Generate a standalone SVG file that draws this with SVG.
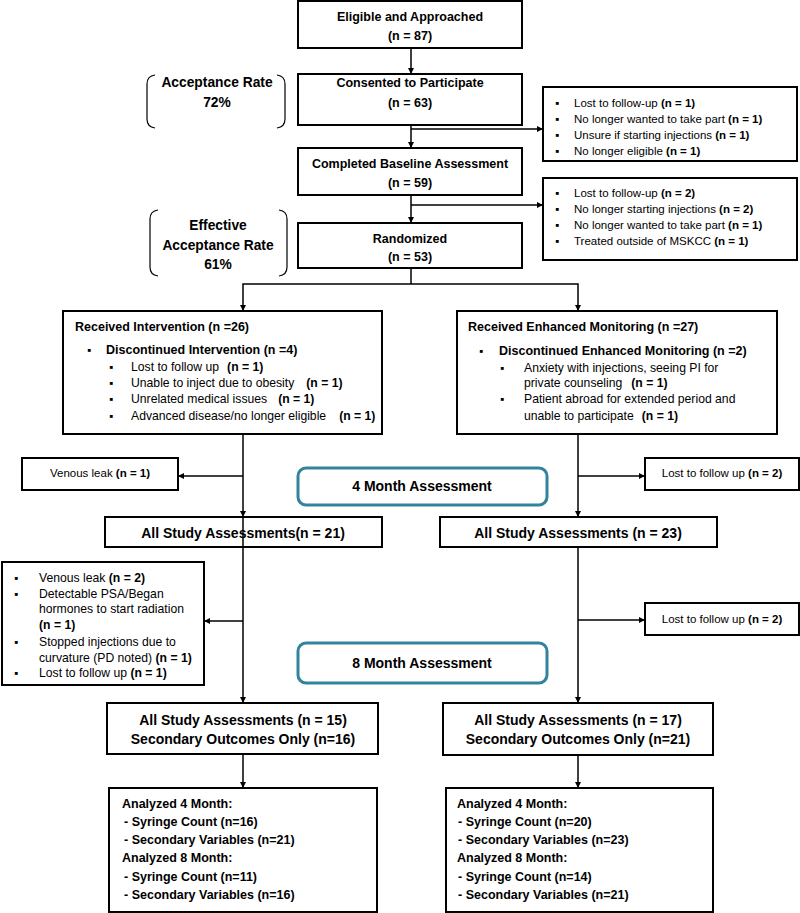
<svg xmlns="http://www.w3.org/2000/svg" width="800" height="913" viewBox="0 0 800 913">
<style>
text{font-family:"Liberation Sans",Arial,"DejaVu Sans",sans-serif;font-size:11.5px;fill:#000}
.c{text-anchor:middle}
.b{font-weight:bold}
.s{font-size:12.2px}
.h{font-size:12.5px;font-weight:bold}
.r{font-size:13.8px;font-weight:bold}
.big{font-size:14px;font-weight:bold}
.box{fill:#fff;stroke:#000;stroke-width:2}
.tbox{fill:#fff;stroke:#31849B;stroke-width:3}
.br{fill:none;stroke:#000;stroke-width:1.2}
.conn{fill:none;stroke:#000;stroke-width:1.5}
.arr{fill:none;stroke:#000;stroke-width:1.5;marker-end:url(#ah)}
</style>
<defs>
<marker id="ah" viewBox="0 0 10 10" refX="10" refY="5" markerWidth="6" markerHeight="6" markerUnits="userSpaceOnUse" orient="auto"><path d="M0,0 L10,5 L0,10 z" fill="#000"/></marker>
</defs>
<rect width="800" height="913" fill="#fff"/>

<g id="n-eligible"><rect class="box" x="298" y="1" width="224" height="47"/>
<text class="c h" x="410" y="21">Eligible and Approached</text><text class="c h" x="410" y="40">(n = 87)</text></g>

<g id="n-consented"><rect class="box" x="298" y="74" width="224" height="51"/>
<text class="c h" x="410" y="87">Consented to Participate</text><text class="c h" x="410" y="107">(n = 63)</text></g>

<g id="n-acceptance"><path class="br" d="M155,75 Q147,76 147,84 L147,119 Q147,127 155,128"/><path class="br" d="M277,75 Q285,76 285,84 L285,119 Q285,127 277,128"/>
<text class="c r" x="217" y="87">Acceptance Rate</text><text class="c r" x="217" y="107">72%</text></g>

<g id="n-excl1"><rect class="box" x="543" y="87" width="254" height="74"/>
<text x="555" y="107">▪</text><text x="574" y="107">Lost to follow-up <tspan class="b">(n = 1)</tspan></text>
<text x="555" y="123">▪</text><text x="574" y="123">No longer wanted to take part <tspan class="b">(n = 1)</tspan></text>
<text x="555" y="139">▪</text><text x="574" y="139">Unsure if starting injections <tspan class="b">(n = 1)</tspan></text>
<text x="555" y="155">▪</text><text x="574" y="155">No longer eligible <tspan class="b">(n = 1)</tspan></text></g>

<g id="n-baseline"><rect class="box" x="298" y="148" width="224" height="47"/>
<text class="c h" x="410" y="168">Completed Baseline Assessment</text><text class="c h" x="410" y="187">(n = 59)</text></g>

<g id="n-excl2"><rect class="box" x="543" y="178" width="254" height="82"/>
<text x="555" y="197">▪</text><text x="574" y="197">Lost to follow-up <tspan class="b">(n = 2)</tspan></text>
<text x="555" y="213">▪</text><text x="574" y="213">No longer starting injections <tspan class="b">(n = 2)</tspan></text>
<text x="555" y="229">▪</text><text x="574" y="229">No longer wanted to take part <tspan class="b">(n = 1)</tspan></text>
<text x="555" y="245">▪</text><text x="574" y="245">Treated outside of MSKCC <tspan class="b">(n = 1)</tspan></text></g>

<g id="n-effective"><path class="br" d="M158,210 Q150,211 150,219 L150,267 Q150,275 158,276"/><path class="br" d="M279,210 Q287,211 287,219 L287,267 Q287,275 279,276"/>
<text class="c r" x="218" y="230">Effective</text><text class="c r" x="218" y="250">Acceptance Rate</text><text class="c r" x="218" y="269">61%</text></g>

<g id="n-randomized"><rect class="box" x="298" y="223" width="224" height="45"/>
<text class="c h" x="410" y="243">Randomized</text><text class="c h" x="410" y="261">(n = 53)</text></g>

<g id="n-intervention"><rect class="box" x="63" y="311" width="319" height="123"/>
<text class="h" x="75" y="331">Received Intervention (n =26)</text>
<text x="87" y="354">▪</text><text class="h" x="106" y="354">Discontinued Intervention (n =4)</text>
<text x="109" y="371">▪</text><text class="s" x="131" y="371">Lost to follow up<tspan class="b" dx="8">(n = 1)</tspan></text>
<text x="109" y="387">▪</text><text class="s" x="131" y="387">Unable to inject due to obesity<tspan class="b" dx="12">(n = 1)</tspan></text>
<text x="109" y="403">▪</text><text class="s" x="131" y="403">Unrelated medical issues<tspan class="b" dx="11">(n = 1)</tspan></text>
<text x="109" y="420">▪</text><text class="s" x="131" y="420">Advanced disease/no longer eligible<tspan class="b" dx="13">(n = 1)</tspan></text></g>

<g id="n-monitoring"><rect class="box" x="457" y="311" width="320" height="123"/>
<text class="h" x="468" y="331">Received Enhanced Monitoring (n =27)</text>
<text x="479" y="355">▪</text><text class="h" x="499" y="355">Discontinued Enhanced Monitoring (n =2)</text>
<text x="500" y="372">▪</text><text class="s" x="524" y="372">Anxiety with injections, seeing PI for</text>
<text class="s" x="524" y="387">private counseling<tspan class="b" dx="9">(n = 1)</tspan></text>
<text x="500" y="403">▪</text><text class="s" x="524" y="403">Patient abroad for extended period and</text>
<text class="s" x="524" y="420">unable to participate<tspan class="b" dx="8">(n = 1)</tspan></text></g>

<g id="n-venous1"><rect class="box" x="22" y="458" width="156" height="32"/>
<text class="c" x="100" y="477">Venous leak <tspan class="b">(n = 1)</tspan></text></g>

<g id="n-4month"><rect class="tbox" x="298" y="468" width="249" height="37" rx="8"/>
<text class="c big" x="422" y="491">4 Month Assessment</text></g>

<g id="n-lost4"><rect class="box" x="645" y="458" width="154" height="32"/>
<text class="c" x="722" y="477">Lost to follow up <tspan class="b">(n = 2)</tspan></text></g>

<g id="n-all4-left"><rect class="box" x="105" y="517" width="277" height="30"/>
<text class="c big" x="243" y="538">All Study Assessments(n = 21)</text></g>

<g id="n-all4-right"><rect class="box" x="440" y="517" width="277" height="30"/>
<text class="c big" x="578" y="538">All Study Assessments (n = 23)</text></g>

<g id="n-excl8-left"><rect class="box" x="2" y="562" width="202" height="123"/>
<text x="14" y="582">▪</text><text class="s" x="39" y="582">Venous leak <tspan class="b">(n = 2)</tspan></text>
<text x="14" y="598">▪</text><text class="s" x="39" y="598">Detectable PSA/Began</text>
<text class="s" x="39" y="613">hormones to start radiation</text>
<text class="s b" x="39" y="629">(n = 1)</text>
<text x="14" y="646">▪</text><text class="s" x="39" y="646">Stopped injections due to</text>
<text class="s" x="39" y="662">curvature (PD noted) <tspan class="b">(n = 1)</tspan></text>
<text x="14" y="677">▪</text><text class="s" x="39" y="677">Lost to follow up <tspan class="b">(n = 1)</tspan></text></g>

<g id="n-8month"><rect class="tbox" x="298" y="643" width="249" height="40" rx="8"/>
<text class="c big" x="422" y="668">8 Month  Assessment</text></g>

<g id="n-lost8"><rect class="box" x="645" y="603" width="154" height="32"/>
<text class="c" x="722" y="623">Lost to follow up <tspan class="b">(n = 2)</tspan></text></g>

<g id="n-all8-left"><rect class="box" x="107" y="703" width="271" height="51"/>
<text class="c big" x="243" y="725">All Study Assessments (n = 15)</text><text class="c big" x="243" y="744">Secondary Outcomes Only (n=16)</text></g>

<g id="n-all8-right"><rect class="box" x="443" y="703" width="270" height="52"/>
<text class="c big" x="578" y="725">All Study Assessments (n = 17)</text><text class="c big" x="578" y="744">Secondary Outcomes Only (n=21)</text></g>

<g id="n-analyzed-left"><rect class="box" x="109" y="788" width="268" height="124"/>
<text class="h" x="122" y="808">Analyzed  4 Month:</text>
<text class="h" x="124" y="826">-  Syringe Count (n=16)</text>
<text class="h" x="124" y="844">-  Secondary Variables (n=21)</text>
<text class="h" x="122" y="862">Analyzed 8 Month:</text>
<text class="h" x="124" y="881">-  Syringe Count (n=11)</text>
<text class="h" x="124" y="899">-  Secondary Variables  (n=16)</text></g>

<g id="n-analyzed-right"><rect class="box" x="446" y="788" width="267" height="124"/>
<text class="h" x="457" y="808">Analyzed  4 Month:</text>
<text class="h" x="458" y="826">-  Syringe Count (n=20)</text>
<text class="h" x="458" y="844">-  Secondary Variables (n=23)</text>
<text class="h" x="457" y="862">Analyzed 8 Month:</text>
<text class="h" x="458" y="881">-  Syringe Count (n=14)</text>
<text class="h" x="458" y="899">-  Secondary Variables (n=21)</text></g>

<g id="connectors">
<line class="arr" x1="411" y1="48" x2="411" y2="74"/>
<line class="arr" x1="411" y1="125" x2="411" y2="148"/>
<line class="arr" x1="411" y1="129" x2="543" y2="129"/>
<line class="arr" x1="411" y1="195" x2="411" y2="223"/>
<line class="arr" x1="411" y1="205" x2="543" y2="205"/>
<polyline class="conn" points="411,268 411,284"/>
<polyline class="arr" points="411,284 243,284 243,311"/>
<polyline class="arr" points="411,284 578,284 578,311"/>
<line class="arr" x1="243" y1="434" x2="243" y2="517"/>
<line class="arr" x1="243" y1="476" x2="178" y2="476"/>
<line class="arr" x1="578" y1="434" x2="578" y2="517"/>
<line class="arr" x1="578" y1="476" x2="645" y2="476"/>
<line class="arr" x1="243" y1="517" x2="243" y2="703"/>
<line class="arr" x1="243" y1="621" x2="204" y2="621"/>
<line class="arr" x1="578" y1="547" x2="578" y2="703"/>
<line class="arr" x1="578" y1="620" x2="645" y2="620"/>
<line class="arr" x1="243" y1="754" x2="243" y2="788"/>
<line class="arr" x1="578" y1="755" x2="578" y2="788"/>
</g>
</svg>
